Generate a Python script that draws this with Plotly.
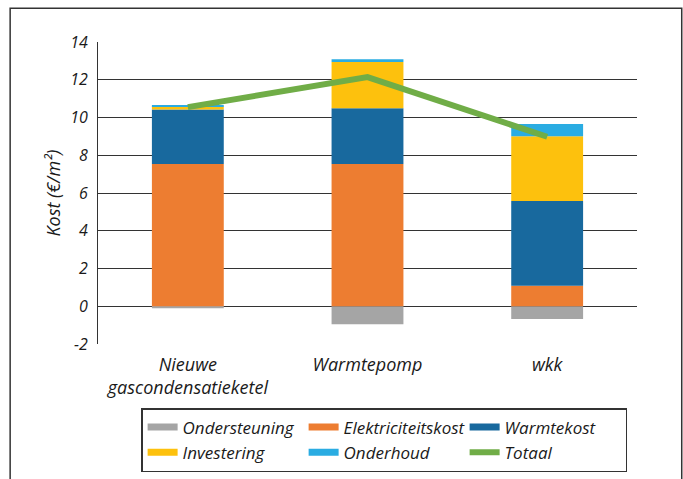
import plotly.graph_objects as go

categories = ["Nieuwe<br>gascondensatieketel", "Warmtepomp", "wkk"]
ondersteuning = [-0.10, -0.95, -0.67]
elektriciteitskost = [7.53, 7.53, 1.09]
warmtekost = [2.89, 2.96, 4.48]
investering = [0.16, 2.45, 3.44]
onderhoud = [0.07, 0.15, 0.64]
totaal = [10.55, 12.14, 8.98]
y_ticks = [-2, 0, 2, 4, 6, 8, 10, 12, 14]
y_ticktext = ["-2", "0", "2", "4", "6", "8", "10", "12", "14"]

FONT = "Open Sans"

fig = go.Figure()
series = [
    ("Ondersteuning", ondersteuning, "#A5A5A5"),
    ("Elektriciteitskost", elektriciteitskost, "#ED7D31"),
    ("Warmtekost", warmtekost, "#18699E"),
    ("Investering", investering, "#FDC10D"),
    ("Onderhoud", onderhoud, "#2AACE2"),
]
for name, vals, col in series:
    fig.add_trace(go.Bar(x=categories, y=vals, name=name, marker_color=col,
                         marker_line_width=0, showlegend=False))
fig.add_trace(go.Scatter(x=categories, y=totaal, name="Totaal", mode="lines",
                         line=dict(color="#70AD47", width=6), showlegend=False))

# legend entries drawn as short thick lines, as in the reference
for name, vals, col in series:
    fig.add_trace(go.Scatter(x=[None], y=[None], name=name, mode="lines",
                             line=dict(color=col, width=7)))
fig.add_trace(go.Scatter(x=[None], y=[None], name="Totaal", mode="lines",
                         line=dict(color="#70AD47", width=6)))

fig.update_layout(
    width=683, height=479,
    barmode="relative", bargap=0.6,
    plot_bgcolor="white", paper_bgcolor="white",
    margin=dict(l=98, r=46, t=42, b=135, autoexpand=False),
    font=dict(family=FONT, size=16, color="#1a1a1a"),
    showlegend=True,
    legend=dict(orientation="h", x=0.08, y=-0.212, xanchor="left", yanchor="top",
                bordercolor="#333333", borderwidth=1.5, entrywidth=116,
                itemwidth=30,
                font=dict(family=FONT, size=17, style="italic"),
                traceorder="normal", tracegroupgap=0),
    shapes=[dict(type="rect", xref="paper", yref="paper", x0=-0.163, x1=1.083,
                 y0=-0.6, y1=1.112, line=dict(color="#333333", width=1.5),
                 fillcolor="rgba(0,0,0,0)", layer="below")],
)
fig.update_xaxes(showgrid=False, showline=False, ticks="", ticklabelstandoff=8,
                 tickfont=dict(family=FONT, size=18, style="italic"))
fig.update_yaxes(range=[-2, 14], tickvals=y_ticks, ticktext=y_ticktext,
                 showgrid=True, gridcolor="#333333",
                 gridwidth=1, zeroline=False, showline=True, linecolor="#333333",
                 linewidth=1, ticks="", ticklabelstandoff=6,
                 tickfont=dict(family=FONT, size=16, style="italic"),
                 title=dict(text="Kost (€/m²)", standoff=4,
                            font=dict(family=FONT, size=18, style="italic")))

fig.write_html("out.html")
